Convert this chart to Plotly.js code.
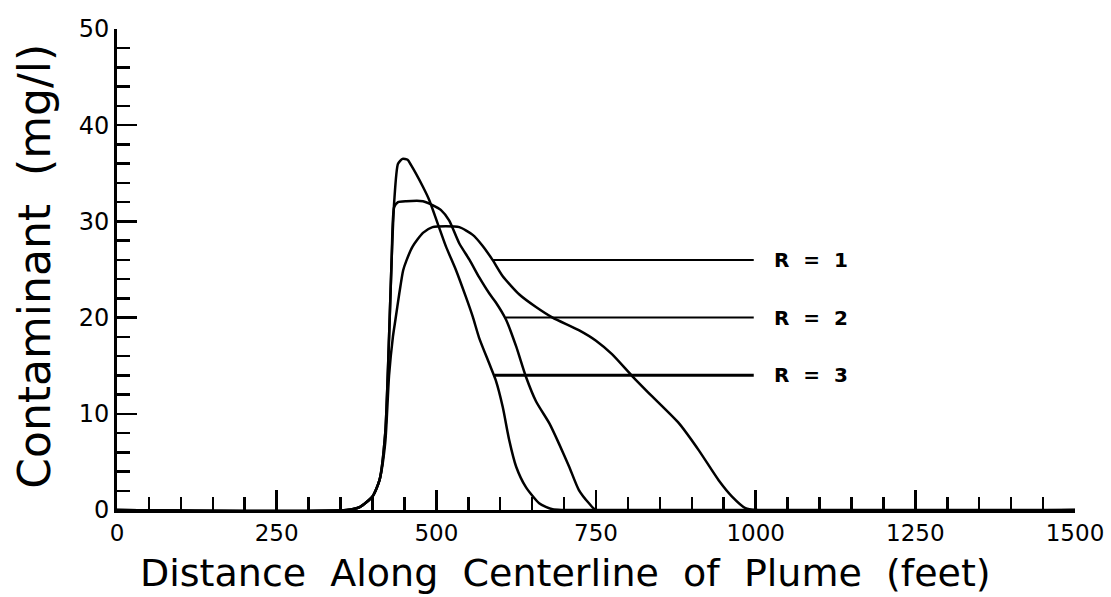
<!DOCTYPE html>
<html>
<head>
<meta charset="utf-8">
<script src="https://cdn.plot.ly/plotly-3.0.1.min.js"></script>
<style>html,body{margin:0;padding:0;background:#fff;}#chart{width:1111px;height:597px;}</style>
</head>
<body>
<div id="chart"></div>
<script>
// R = 1 (broad curve)
const xR1 = [0, 360, 380, 400, 411, 420, 426, 432, 436, 442, 448, 453, 463, 479, 494, 515, 536, 557, 572, 588, 604, 630, 656, 682, 723, 750, 775, 807, 838, 880, 911, 942, 963, 984, 1000, 1500];
const yR1 = [0, 0, 0.3, 1.4, 3.1, 7, 14, 18, 19.8, 22.5, 24.9, 25.9, 27.4, 28.8, 29.4, 29.5, 29.4, 28.6, 27.5, 26, 24.3, 22.4, 21.1, 20.0, 18.7, 17.6, 16.2, 13.9, 11.8, 9.0, 6.2, 3.1, 1.4, 0.2, 0, 0];
// R = 2 (middle curve)
const xR2 = [0, 360, 380, 400, 411, 420, 426, 430, 434, 440, 453, 479, 494, 507, 520, 536, 552, 567, 583, 593, 609, 625, 640, 656, 677, 692, 708, 723, 739, 750, 1500];
const yR2 = [0, 0, 0.3, 1.4, 3.1, 8, 18, 26, 31.5, 32.0, 32.1, 32.1, 31.7, 31.2, 30.1, 27.7, 26.0, 24.2, 22.5, 21.6, 19.8, 17.0, 13.9, 11.3, 9.0, 6.9, 4.5, 2.1, 0.7, 0, 0];
// R = 3 (peaked curve)
const xR3 = [0, 360, 380, 400, 411, 420, 426, 430, 434, 440, 447, 455, 460, 479, 489, 502, 515, 531, 546, 557, 567, 583, 593, 604, 614, 625, 640, 661, 682, 700, 1500];
const yR3 = [0, 0, 0.3, 1.4, 3.1, 8, 18, 26, 32, 36.0, 36.5, 36.4, 35.9, 33.6, 32.2, 29.8, 27.4, 24.9, 22.2, 20.1, 17.9, 15.2, 13.5, 10.7, 7.3, 4.5, 2.4, 0.7, 0.07, 0, 0];

// leader lines and labels
const labels = ['R\u00A0\u00A0=\u00A0\u00A01', 'R\u00A0\u00A0=\u00A0\u00A02', 'R\u00A0\u00A0=\u00A0\u00A03'];
const leaderY = [26, 20, 14];
const leaderStart = [588, 609, 591];
const leaderEnd = [997, 997, 997];
const labelX = 1025;

const xTitle = 'Distance\u00A0\u00A0Along\u00A0\u00A0Centerline\u00A0\u00A0of\u00A0\u00A0Plume\u00A0\u00A0(feet)';
const yTitle = 'Contaminant\u00A0\u00A0(mg/l)';

const font = 'DejaVu Sans, Liberation Sans, sans-serif';
const traces = [];
[[xR1, yR1], [xR2, yR2], [xR3, yR3]].forEach(([x, y]) => {
  traces.push({x: x, y: y, type: 'scatter', mode: 'lines', line: {color: '#000', width: 2.5, shape: 'spline', smoothing: 0.6}, hoverinfo: 'skip'});
});
leaderY.forEach((yv, i) => {
  traces.push({x: [leaderStart[i], leaderEnd[i]], y: [yv, yv], type: 'scatter', mode: 'lines', line: {color: '#000', width: i === 2 ? 3 : 2}, hoverinfo: 'skip'});
});

const annotations = labels.map((t, i) => ({
  x: labelX, y: leaderY[i], xref: 'x', yref: 'y', text: t, showarrow: false,
  xanchor: 'left', yanchor: 'middle', font: {family: font, size: 20, color: '#000', weight: 'bold'}
}));
annotations.push({x: 0.468, y: -0.13, xref: 'paper', yref: 'paper', text: xTitle, showarrow: false,
  xanchor: 'center', yanchor: 'middle', font: {family: font, size: 38, color: '#000'}});
annotations.push({x: -0.086, y: 0.507, xref: 'paper', yref: 'paper', text: yTitle, showarrow: false, textangle: -90,
  xanchor: 'center', yanchor: 'middle', font: {family: font, size: 44, color: '#000'}});

const layout = {
  width: 1111, height: 597,
  margin: {l: 117, r: 36, t: 29, b: 87},
  paper_bgcolor: '#fff', plot_bgcolor: '#fff',
  showlegend: false,
  font: {family: font, color: '#000'},
  xaxis: {
    range: [0, 1500], tickvals: [0, 250, 500, 750, 1000, 1250, 1500],
    ticks: 'inside', ticklen: 20, tickwidth: 2.5, tickcolor: '#000',
    minor: {dtick: 50, ticks: 'inside', ticklen: 13, tickwidth: 2.5, tickcolor: '#000', showgrid: false},
    showline: true, linecolor: '#000', linewidth: 3, showgrid: false, zeroline: false,
    tickfont: {family: font, size: 23, color: '#000'}
  },
  yaxis: {
    range: [0, 50], tickvals: [0, 10, 20, 30, 40, 50],
    ticks: 'inside', ticklen: 20, tickwidth: 2.5, tickcolor: '#000',
    minor: {dtick: 2, ticks: 'inside', ticklen: 13, tickwidth: 2.5, tickcolor: '#000', showgrid: false},
    showline: true, linecolor: '#000', linewidth: 3, showgrid: false, zeroline: false,
    tickfont: {family: font, size: 24, color: '#000'}
  },
  annotations: annotations
};
Plotly.newPlot('chart', traces, layout, {staticPlot: true, displayModeBar: false});
</script>
</body>
</html>
